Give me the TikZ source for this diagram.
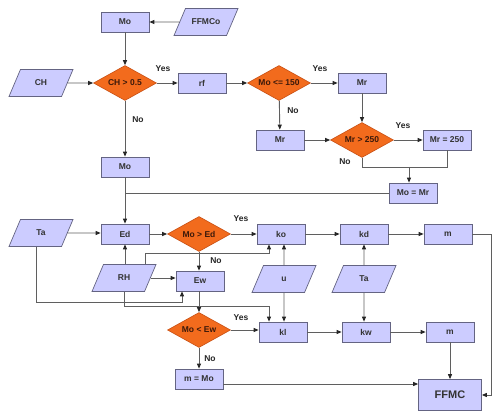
\documentclass[tikz,border=0pt]{standalone}
\usepackage{fontspec}
\setmainfont{Liberation Sans}
\usetikzlibrary{shapes.geometric, arrows.meta, positioning, calc}

\begin{document}
\begin{tikzpicture}[
    x=1pt, y=-1pt,
    % Styles
    procbox/.style={
        rectangle,
        draw=boxline, fill=boxfill,
        line width=0.7pt,
        minimum width=48pt, minimum height=20pt,
        inner sep=0pt,
        font=\fontsize{8.5}{10}\selectfont\bfseries, text=black!80
    },
    inputbox/.style={
        trapezium, trapezium left angle=67, trapezium right angle=113,
        trapezium stretches body,
        draw=boxline, fill=boxfill,
        line width=0.7pt,
        minimum width=64pt,
        text height=16.5pt, text depth=10.5pt,
        inner sep=0pt,
        font=\fontsize{8.5}{10}\selectfont\bfseries, text=black!80
    },
    decision/.style={
        diamond, aspect=1.8,
        draw=decline, fill=decfill,
        line width=0.6pt,
        minimum width=63pt, minimum height=35pt,
        inner sep=0pt,
        font=\fontsize{8.5}{10}\selectfont\bfseries, text=dectext
    },
    answer/.style={
        font=\fontsize{8.5}{10}\selectfont\bfseries, text=black!85
    },
    arrow/.style={
        -{Triangle[length=5pt, width=4pt, color=black!85]},
        line width=0.9pt, color=linegray
    },
    link/.style={
        line width=0.9pt, color=linegray
    },
]
% Define colors
\definecolor{boxfill}{RGB}{204,204,255}
\definecolor{boxline}{RGB}{100,100,130}
\definecolor{decfill}{RGB}{242,107,29}
\definecolor{decline}{RGB}{200,80,20}
\definecolor{dectext}{RGB}{60,25,10}
\definecolor{linegray}{RGB}{95,95,95}

\useasboundingbox (0,0) rectangle (500,419);

% Moisture content from previous day
\node[procbox] (mo1) at (125,22) {Mo};
\node[inputbox] (ffmco) at (206,22) {FFMCo};
\node[decision] (chk) at (125,83) {CH > 0.5};
\node[inputbox] (ch) at (41,83) {CH};
\node[procbox] (rf) at (202,83) {rf};
\node[procbox] (mo2) at (125,167) {Mo};

% Rain correction
\node[decision] (mochk) at (279,83) {Mo <= 150};
\node[procbox] (mr1) at (362,83) {Mr};
\node[procbox] (mr2) at (280,140) {Mr};
\node[decision] (mrchk) at (362,140) {Mr > 250};
\node[procbox] (mr250) at (447,140) {Mr = 250};
\node[procbox] (momr) at (413,193) {Mo = Mr};

% Equilibrium moisture
\node[inputbox] (ta1) at (41,233) {Ta};
\node[procbox] (ed) at (125,234) {Ed};
\node[decision] (edchk) at (199,234) {Mo > Ed};
\node[inputbox] (rh) at (124,278) {RH};
\node[procbox] (ew) at (200,281) {Ew};
\node[decision] (ewchk) at (199,330) {Mo < Ew};
\node[procbox] (mmo) at (199,379) {m = Mo};

% Drying and wetting rates
\node[procbox] (ko) at (281,234) {ko};
\node[procbox] (kd) at (364,234) {kd};
\node[procbox] (m1) at (448,234) {m};
\node[inputbox] (u) at (284,279) {u};
\node[inputbox] (ta2) at (364,279) {Ta};
\node[procbox] (kl) at (283,332) {kl};
\node[procbox] (kw) at (366,332) {kw};
\node[procbox] (m2) at (450,332) {m};
\node[procbox, minimum width=63pt, minimum height=31pt,
      font=\fontsize{11}{13}\selectfont\bfseries] (ffmc) at (450,395) {FFMC};

% Yes / No labels
\node[answer] (yes1) at (163,69) {Yes};
\node[answer] (no1) at (138,120) {No};
\node[answer] (yes2) at (320,69) {Yes};
\node[answer] (no2) at (293,111) {No};
\node[answer] (yes3) at (403,126) {Yes};
\node[answer] (no3) at (345,162) {No};
\node[answer] (yes4) at (241,219) {Yes};
\node[answer] (no4) at (216,261) {No};
\node[answer] (yes5) at (241,318) {Yes};
\node[answer] (no5) at (210,359) {No};

% Arrows, upper part
\draw[arrow] (ffmco) -- (mo1);
\draw[arrow] (mo1) -- (chk);
\draw[arrow] (ch) -- (chk);
\draw[arrow] (chk) -- (rf);
\draw[arrow] (chk) -- (mo2);
\draw[arrow] (rf) -- (mochk);
\draw[arrow] (mochk) -- (mr1);
\draw[arrow] (mochk) -- (mr2);
\draw[arrow] (mr1) -- (mrchk);
\draw[arrow] (mr2) -- (mrchk);
\draw[arrow] (mrchk) -- (mr250);
\coordinate (mrjoin) at (409,167);
\draw[link] (mrchk.south) |- (mrjoin);
\draw[link] (mr250.south) |- (mrjoin);
\draw[arrow] (mrjoin) -- (mrjoin |- momr.north);
\draw[link] (momr.west) -- (mo2 |- momr.west);
\draw[arrow] (mo2) -- (ed);

% Arrows, lower part
\draw[arrow] (ta1) -- (ta1 -| ed.west);
\draw[arrow] (ed) -- (edchk);
\draw[arrow] (edchk) -- (ko);
\draw[arrow] (edchk) -- (edchk |- ew.north);
\draw[arrow] (rh.north -| ed) -- (ed.south);
\draw[arrow] (rh.east) -- (ew.west |- rh.east);
\draw[arrow] ([xshift=21pt]rh.north) |- ([xshift=-12pt,yshift=-9pt]ko.south) -- ([xshift=-12pt]ko.south);
\draw[arrow] (rh.south) |- ([xshift=-14pt,yshift=15pt]kl.north) -- ([xshift=-14pt]kl.north);
\draw[arrow] ([xshift=-5pt]ta1.south) |- ([xshift=-18pt,yshift=-11pt]ew.south) -- ([xshift=-18pt]ew.south);
\draw[arrow] (ewchk |- ew.south) -- (ewchk);
\draw[arrow] (ewchk) -- (ewchk -| kl.west);
\draw[arrow] (ewchk) -- (mmo);
\draw[arrow] ([yshift=-5pt]mmo.east) -- ([yshift=-5pt]mmo.east -| ffmc.west);

% Arrows, rates
\draw[arrow] (ko) -- (kd);
\draw[arrow] (kd) -- (m1);
\draw[arrow] (u) -- (u |- ko.south);
\draw[arrow] (u) -- (u |- kl.north);
\draw[arrow] (ta2) -- (ta2 |- kd.south);
\draw[arrow] (ta2) -- (ta2 |- kw.north);
\draw[arrow] (kl) -- (kw);
\draw[arrow] (kw) -- (m2);
\draw[arrow] (m2) -- (ffmc);
\draw[arrow] (m1.east) -- ++(19pt,0) |- (ffmc.east);

\end{tikzpicture}
\end{document}
